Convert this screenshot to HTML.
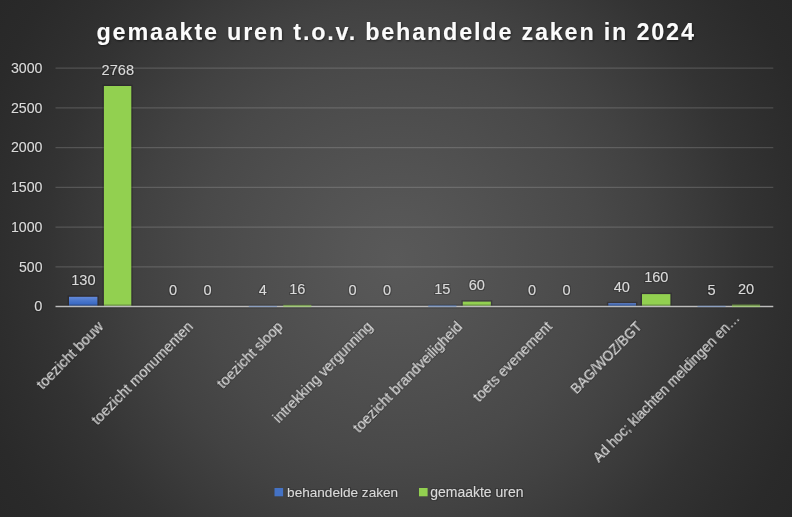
<!DOCTYPE html>
<html><head><meta charset="utf-8"><title>gemaakte uren t.o.v. behandelde zaken in 2024</title>
<style>
html,body{margin:0;padding:0;background:#262626;}
body{width:792px;height:517px;overflow:hidden;}
svg{display:block;}
text{font-family:"Liberation Sans",sans-serif;}
.l{fill:#dadada;filter:url(#halo);}
.t{fill:#fbfbfb;font-weight:bold;filter:url(#sh);}
</style></head><body>
<svg width="792" height="517" viewBox="0 0 792 517">
<defs>
<radialGradient id="bg" gradientUnits="userSpaceOnUse" cx="396" cy="258.5" r="473">
<stop offset="0" stop-color="#595959"/>
<stop offset="0.1" stop-color="#565656"/>
<stop offset="0.2" stop-color="#525252"/>
<stop offset="0.3" stop-color="#4e4e4e"/>
<stop offset="0.419" stop-color="#494949"/>
<stop offset="0.54" stop-color="#424242"/>
<stop offset="0.65" stop-color="#3a3a3a"/>
<stop offset="0.74" stop-color="#333333"/>
<stop offset="0.833" stop-color="#2e2e2e"/>
<stop offset="0.92" stop-color="#2a2a2a"/>
<stop offset="1" stop-color="#282828"/>
</radialGradient>
<filter id="halo" x="-10%" y="-30%" width="120%" height="160%"><feMorphology in="SourceAlpha" operator="dilate" radius="0.8" result="d"/><feGaussianBlur in="d" stdDeviation="0.5" result="b"/><feFlood flood-color="#181818" flood-opacity="0.28"/><feComposite in2="b" operator="in" result="s"/><feMerge><feMergeNode in="s"/><feMergeNode in="SourceGraphic"/></feMerge></filter>
<filter id="sh" x="-5%" y="-30%" width="110%" height="160%"><feDropShadow dx="0.6" dy="1" stdDeviation="0.9" flood-color="#000" flood-opacity="0.55"/></filter>
<linearGradient id="blue" x1="0" y1="0" x2="0" y2="1">
<stop offset="0" stop-color="#6389d9"/>
<stop offset="0.5" stop-color="#4673c9"/>
<stop offset="1" stop-color="#2f61c0"/>
</linearGradient>
</defs>
<rect x="0" y="0" width="792" height="517" fill="url(#bg)"/>

<g stroke="#d9d9d9" stroke-opacity="0.2" stroke-width="1.2">
<line x1="55.5" x2="773.3" y1="266.78" y2="266.78"/>
<line x1="55.5" x2="773.3" y1="227.07" y2="227.07"/>
<line x1="55.5" x2="773.3" y1="187.35" y2="187.35"/>
<line x1="55.5" x2="773.3" y1="147.63" y2="147.63"/>
<line x1="55.5" x2="773.3" y1="107.92" y2="107.92"/>
<line x1="55.5" x2="773.3" y1="68.20" y2="68.20"/>
</g>
<rect x="67.60" y="295.40" width="31.20" height="11.10" fill="#1c1820" opacity="0.35"/>
<rect x="69.00" y="296.80" width="28.40" height="9.70" fill="url(#blue)"/>
<rect x="102.50" y="84.60" width="30.20" height="221.90" fill="#1c1820" opacity="0.35"/>
<rect x="103.90" y="86.00" width="27.40" height="220.50" fill="#92d050"/>
<rect x="461.36" y="300.20" width="30.90" height="6.30" fill="#1c1820" opacity="0.35"/>
<rect x="462.76" y="301.60" width="28.10" height="4.90" fill="#92d050"/>
<rect x="606.90" y="301.80" width="30.50" height="4.70" fill="#1c1820" opacity="0.35"/>
<rect x="608.30" y="303.20" width="27.70" height="3.30" fill="url(#blue)"/>
<rect x="640.60" y="292.70" width="31.20" height="13.80" fill="#1c1820" opacity="0.35"/>
<rect x="642.00" y="294.10" width="28.40" height="12.40" fill="#92d050"/>
<line x1="55.5" x2="773.3" y1="306.5" y2="306.5" stroke="#222" stroke-opacity="0.35" stroke-width="4"/>
<line x1="55.5" x2="773.3" y1="306.5" y2="306.5" stroke="#bcbcbc" stroke-width="1.5"/>
<rect x="248.78" y="305.78" width="28.1" height="1.32" fill="#4472c4" opacity="0.4"/>
<rect x="283.28" y="304.83" width="28.1" height="2.27" fill="#92d050" opacity="0.55"/>
<rect x="428.26" y="304.91" width="28.1" height="2.19" fill="#4472c4" opacity="0.4"/>
<rect x="697.48" y="305.70" width="28.1" height="1.40" fill="#4472c4" opacity="0.4"/>
<rect x="731.98" y="304.51" width="28.1" height="2.59" fill="#92d050" opacity="0.55"/>
<rect x="274.5" y="488" width="8.6" height="8.3" fill="#4472c4"/>
<rect x="419" y="488" width="8.6" height="8.3" fill="#92d050"/>
<text x="42.50" y="311.30" class="l" font-size="14.40" text-anchor="end" textLength="8.11" lengthAdjust="spacingAndGlyphs">0</text>
<text x="42.50" y="271.58" class="l" font-size="14.40" text-anchor="end" textLength="23.43" lengthAdjust="spacingAndGlyphs">500</text>
<text x="42.50" y="231.87" class="l" font-size="14.40" text-anchor="end" textLength="31.54" lengthAdjust="spacingAndGlyphs">1000</text>
<text x="42.50" y="192.15" class="l" font-size="14.40" text-anchor="end" textLength="31.54" lengthAdjust="spacingAndGlyphs">1500</text>
<text x="42.50" y="152.43" class="l" font-size="14.40" text-anchor="end" textLength="31.54" lengthAdjust="spacingAndGlyphs">2000</text>
<text x="42.50" y="112.72" class="l" font-size="14.40" text-anchor="end" textLength="31.54" lengthAdjust="spacingAndGlyphs">2500</text>
<text x="42.50" y="73.00" class="l" font-size="14.40" text-anchor="end" textLength="31.54" lengthAdjust="spacingAndGlyphs">3000</text>
<text x="83.35" y="284.77" class="l" font-size="14.40" text-anchor="middle" textLength="24.33" lengthAdjust="spacingAndGlyphs">130</text>
<text x="117.85" y="75.23" class="l" font-size="14.40" text-anchor="middle" textLength="32.44" lengthAdjust="spacingAndGlyphs">2768</text>
<text x="173.09" y="295.10" class="l" font-size="14.40" text-anchor="middle" textLength="8.11" lengthAdjust="spacingAndGlyphs">0</text>
<text x="207.59" y="295.10" class="l" font-size="14.40" text-anchor="middle" textLength="8.11" lengthAdjust="spacingAndGlyphs">0</text>
<text x="262.83" y="294.78" class="l" font-size="14.40" text-anchor="middle" textLength="8.11" lengthAdjust="spacingAndGlyphs">4</text>
<text x="297.33" y="293.83" class="l" font-size="14.40" text-anchor="middle" textLength="16.22" lengthAdjust="spacingAndGlyphs">16</text>
<text x="352.57" y="295.10" class="l" font-size="14.40" text-anchor="middle" textLength="8.11" lengthAdjust="spacingAndGlyphs">0</text>
<text x="387.07" y="295.10" class="l" font-size="14.40" text-anchor="middle" textLength="8.11" lengthAdjust="spacingAndGlyphs">0</text>
<text x="442.31" y="293.91" class="l" font-size="14.40" text-anchor="middle" textLength="16.22" lengthAdjust="spacingAndGlyphs">15</text>
<text x="476.81" y="290.33" class="l" font-size="14.40" text-anchor="middle" textLength="16.22" lengthAdjust="spacingAndGlyphs">60</text>
<text x="532.05" y="295.10" class="l" font-size="14.40" text-anchor="middle" textLength="8.11" lengthAdjust="spacingAndGlyphs">0</text>
<text x="566.55" y="295.10" class="l" font-size="14.40" text-anchor="middle" textLength="8.11" lengthAdjust="spacingAndGlyphs">0</text>
<text x="621.79" y="291.92" class="l" font-size="14.40" text-anchor="middle" textLength="16.22" lengthAdjust="spacingAndGlyphs">40</text>
<text x="656.29" y="282.39" class="l" font-size="14.40" text-anchor="middle" textLength="24.33" lengthAdjust="spacingAndGlyphs">160</text>
<text x="711.53" y="294.70" class="l" font-size="14.40" text-anchor="middle" textLength="8.11" lengthAdjust="spacingAndGlyphs">5</text>
<text x="746.03" y="293.51" class="l" font-size="14.40" text-anchor="middle" textLength="16.22" lengthAdjust="spacingAndGlyphs">20</text>
<text class="l" font-size="13.77" text-anchor="end" textLength="88.08" lengthAdjust="spacingAndGlyphs" transform="translate(104.27,327.40) rotate(-45.5)">toezicht bouw</text>
<text class="l" font-size="13.77" text-anchor="end" textLength="137.69" lengthAdjust="spacingAndGlyphs" transform="translate(194.01,327.40) rotate(-45.5)">toezicht monumenten</text>
<text class="l" font-size="13.77" text-anchor="end" textLength="86.66" lengthAdjust="spacingAndGlyphs" transform="translate(283.75,327.40) rotate(-45.5)">toezicht sloop</text>
<text class="l" font-size="13.77" text-anchor="end" textLength="134.94" lengthAdjust="spacingAndGlyphs" transform="translate(373.49,327.40) rotate(-45.5)">intrekking vergunning</text>
<text class="l" font-size="13.77" text-anchor="end" textLength="148.76" lengthAdjust="spacingAndGlyphs" transform="translate(463.23,327.40) rotate(-45.5)">toezicht brandveiligheid</text>
<text class="l" font-size="13.77" text-anchor="end" textLength="105.54" lengthAdjust="spacingAndGlyphs" transform="translate(552.97,327.40) rotate(-45.5)">toets evenement</text>
<text class="l" font-size="13.77" text-anchor="end" textLength="94.18" lengthAdjust="spacingAndGlyphs" transform="translate(642.71,327.40) rotate(-45.5)">BAG/WOZ/BGT</text>
<text class="l" font-size="13.77" text-anchor="end" textLength="202.00" lengthAdjust="spacingAndGlyphs" transform="translate(740.45,319.00) rotate(-45.5)">Ad hoc; klachten meldingen en…</text>
<text x="287.10" y="496.80" class="l" font-size="13.59" textLength="111.04" lengthAdjust="spacingAndGlyphs">behandelde zaken</text>
<text x="430.20" y="496.80" class="l" font-size="13.77" textLength="93.28" lengthAdjust="spacingAndGlyphs">gemaakte uren</text>
<text x="395.20" y="39.60" class="t" font-size="23.40" text-anchor="middle" textLength="597.41" lengthAdjust="spacing">gemaakte uren t.o.v. behandelde zaken in 2024</text>
</svg>
</body></html>
